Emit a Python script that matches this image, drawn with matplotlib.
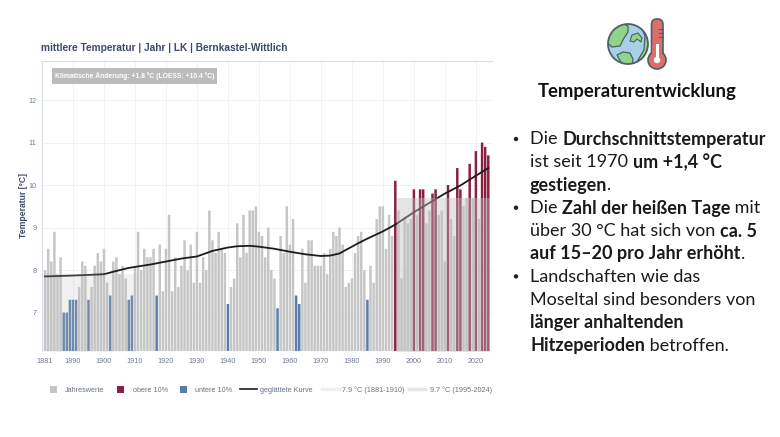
import matplotlib
matplotlib.use("Agg")
import matplotlib.pyplot as plt
from matplotlib.patches import Circle, FancyBboxPatch, PathPatch, Rectangle
from matplotlib.path import Path

years = list(range(1881, 2025))
temps = [
    8.0, 8.5, 8.2, 8.9, 7.9, 8.3, 7.0, 7.0, 7.3, 7.3,  # 1881-1890
    7.3, 7.6, 8.2, 8.1, 7.3, 7.6, 8.1, 8.4, 8.2, 8.5,  # 1891-1900
    7.7, 7.4, 8.2, 8.3, 7.9, 8.1, 7.8, 7.3, 7.4, 8.1,  # 1901-1910
    8.9, 8.0, 8.5, 8.3, 8.3, 8.5, 7.4, 8.6, 7.5, 8.5,  # 1911-1920
    9.3, 7.5, 8.3, 7.6, 8.1, 8.7, 8.0, 8.6, 7.7, 8.9,  # 1921-1930
    7.7, 8.3, 8.0, 9.4, 8.7, 8.4, 8.9, 8.5, 8.4, 7.2,  # 1931-1940
    7.6, 7.8, 9.1, 8.3, 9.3, 8.4, 9.4, 9.4, 9.5, 8.9,  # 1941-1950
    8.8, 8.3, 9.0, 8.0, 7.8, 7.1, 8.8, 8.4, 9.5, 8.6,  # 1951-1960
    9.2, 7.4, 7.2, 8.5, 7.7, 8.7, 8.7, 8.1, 8.1, 8.1,  # 1961-1970
    8.4, 7.9, 8.5, 8.9, 8.8, 9.0, 8.6, 7.6, 7.7, 7.8,  # 1971-1980
    8.4, 8.8, 8.9, 8.0, 7.3, 8.1, 7.7, 9.2, 9.5, 9.5,  # 1981-1990
    8.5, 9.3, 8.8, 10.1, 9.4, 7.8, 9.25, 9.1, 9.2, 9.9,  # 1991-2000
    9.3, 9.9, 9.9, 9.1, 9.4, 9.8, 9.9, 9.3, 9.4, 8.2,  # 2001-2010
    10.0, 9.2, 8.8, 10.4, 9.9, 9.5, 9.7, 10.5, 9.7, 10.8,  # 2011-2020
    9.2, 11.0, 10.9, 10.7,  # 2021-2024
]
upper_years = [1994, 2000, 2002, 2003, 2006, 2007, 2011, 2014, 2015, 2018, 2020, 2022, 2023, 2024]
lower_years = [1887, 1888, 1889, 1890, 1891, 1895, 1902, 1908, 1909, 1917, 1940, 1956, 1962, 1963, 1985]

smooth_years = [1881, 1890, 1900, 1903, 1908, 1915, 1920, 1925, 1930, 1935, 1940, 1943, 1947, 1950, 1955,
                1960, 1965, 1970, 1973, 1976, 1978, 1982, 1985, 1990, 1994, 2000, 2005, 2010, 2015, 2020, 2024]
smooth_vals = [7.85, 7.87, 7.9, 7.96, 8.05, 8.13, 8.2, 8.27, 8.32, 8.45, 8.53, 8.56, 8.57, 8.55, 8.5,
               8.43, 8.37, 8.33, 8.34, 8.39, 8.47, 8.63, 8.74, 8.91, 9.07, 9.36, 9.58, 9.8, 9.99, 10.22, 10.4]

ref_early = 7.9
ref_late = 9.7
x_ticks = [1881] + list(range(1890, 2030, 10))
y_ticks = [7, 8, 9, 10, 11, 12]

bullet_lines = [
    (True, [("Die ", False), ("Durchschnittstemperatur", True)]),
    (False, [("ist seit 1970 ", False), ("um +1,4 °C", True)]),
    (False, [("gestiegen", True), (".", False)]),
    (True, [("Die ", False), ("Zahl der heißen Tage", True), (" mit", False)]),
    (False, [("über 30 °C hat sich von ", False), ("ca. 5", True)]),
    (False, [("auf 15–20 pro Jahr erhöht", True), (".", False)]),
    (True, [("Landschaften wie das", False)]),
    (False, [("Moseltal sind besonders von", False)]),
    (False, [("länger anhaltenden", True)]),
    (False, [("Hitzeperioden", True), (" betroffen.", False)]),
]
legend_items = ["Jahreswerte", "obere 10%", "untere 10%", "geglättete Kurve",
                "7.9 °C (1881-1910)", "9.7 °C (1995-2024)"]

GREY = "#c6c6c6"
RED = "#8b1f3f"
BLUE = "#5b7ca8"
NAVY = "#3b4a68"
TICK = "#6f7b90"
BAND = "#c0c0c0"

W, H = 780, 437
fig = plt.figure(figsize=(W / 100, H / 100), dpi=100, facecolor="white")
plt.rcParams["font.family"] = ["Liberation Sans", "DejaVu Sans"]

ax = fig.add_axes([42 / W, 1 - 351 / H, 450 / W, 290 / H])
ax.set_xlim(1880.0, 2025.2)
ax.set_ylim(6.094, 12.92)

colors = [RED if y in upper_years else BLUE if y in lower_years else GREY for y in years]
ax.bar(years, temps, width=0.8, color=colors, zorder=2, snap=False)
ax.plot(smooth_years, smooth_vals, color="#1c1c1c", lw=1.3, zorder=3)

# reference periods lie on top of the bars, so the bars and curve fade under them
ax.fill_between([1881, 1910.5], 0, ref_early, color=BAND, alpha=0.22, lw=0, zorder=4)
ax.fill_between([1994.5, 2024.5], 0, ref_late, color=BAND, alpha=0.42, lw=0, zorder=4)

ax.set_xticks(x_ticks)
ax.set_yticks(y_ticks)
ax.grid(True, color="#f1f2f4", lw=0.7, zorder=0)
ax.get_xgridlines()[0].set_visible(False)
ax.set_axisbelow(True)
ax.tick_params(length=0, labelsize=5.2, labelcolor=TICK)
ax.tick_params(axis="x", pad=5)
ax.tick_params(axis="y", pad=4)
for name in ("right", "bottom"):
    ax.spines[name].set_visible(False)
for name in ("left", "top"):
    ax.spines[name].set_color("#d6dce6")
    ax.spines[name].set_linewidth(0.8)
ax.set_ylabel("Temperatur [°C]", fontsize=6.2, fontweight="bold", color=NAVY)
ax.yaxis.set_label_coords(-0.03, 0.5)

# overlay in pixel coordinates for everything around the plot
ov = fig.add_axes([0, 0, 1, 1], zorder=5)
ov.set_xlim(0, W)
ov.set_ylim(H, 0)
ov.axis("off")
ov.patch.set_alpha(0)

ov.text(41, 48, "mittlere Temperatur | Jahr | LK | Bernkastel-Wittlich", fontsize=7.3,
        fontweight="bold", color=NAVY, va="center")
ov.add_patch(Rectangle((52, 68), 165, 15.5, color="#bcbcbc", lw=0))
ov.text(55, 75.8, "Klimatische Änderung: +1.8 °C (LOESS: +10.4 °C)", fontsize=4.85,
        fontweight="bold", color="white", va="center")

# legend row
leg_y = 389
ov.add_patch(Rectangle((50, leg_y - 3.5), 7, 7, color=GREY, lw=0))
ov.add_patch(Rectangle((117, leg_y - 3.5), 7, 7, color=RED, lw=0))
ov.add_patch(Rectangle((180, leg_y - 3.5), 7, 7, color=BLUE, lw=0))
ov.plot([240, 257], [leg_y, leg_y], color="#1c1c1c", lw=1.2)
ov.plot([322, 340], [leg_y, leg_y], color="#f0f0f0", lw=2.5)
ov.plot([409, 425], [leg_y, leg_y], color="#e6e6e6", lw=2.5)
for x, label in zip([65, 133, 195, 260, 342, 430], legend_items):
    ov.text(x, leg_y, label, fontsize=5.2, color="#66728a", va="center_baseline")

# globe and thermometer icon
outline = "#4d5f66"
globe = Circle((628, 44), 20, fc="#a7d0e8", ec="none", zorder=6)
ov.add_patch(globe)
land = [
    [(606, 42), (612, 47), (620, 46), (624, 38), (628, 32), (628, 26), (620, 22), (608, 26)],
    [(617, 55), (623, 52), (630, 53), (633, 59), (632, 66), (622, 64)],
    [(640, 24), (645, 36), (644, 50), (638, 60), (635, 68), (652, 60), (652, 30)],
]
for pts in land:
    codes = [Path.MOVETO] + [Path.LINETO] * (len(pts) - 1) + [Path.CLOSEPOLY]
    patch = PathPatch(Path(pts + [pts[0]], codes), fc="#8fd488", ec=outline, lw=0.9,
                      joinstyle="round", zorder=7)
    ov.add_patch(patch)
    patch.set_clip_path(globe)
island = [(630, 41), (632, 35), (638, 33), (642, 38), (641, 42), (637, 39), (634, 42)]
codes = [Path.MOVETO] + [Path.LINETO] * (len(island) - 1) + [Path.CLOSEPOLY]
ov.add_patch(PathPatch(Path(island + [island[0]], codes), fc="#8fd488", ec=outline, lw=0.8,
                       joinstyle="round", zorder=7))
ov.add_patch(Circle((628, 44), 20, fc="none", ec=outline, lw=1.3, zorder=7))

thermo_red = "#d9706c"
ov.add_patch(FancyBboxPatch((651.5, 19), 11.5, 38, boxstyle="round,pad=0,rounding_size=5.5",
                            fc=thermo_red, ec=outline, lw=1.2, zorder=8))
ov.add_patch(Circle((657, 60), 9, fc=thermo_red, ec=outline, lw=1.2, zorder=8))
ov.add_patch(Rectangle((652.2, 45), 10, 12, fc=thermo_red, lw=0, zorder=9))
ov.add_patch(Rectangle((655.5, 44), 3, 14, fc="white", lw=0, zorder=10))
ov.add_patch(Circle((657, 60), 3.2, fc="white", lw=0, zorder=10))
for tick_y in (29, 33, 37):
    ov.plot([659, 663], [tick_y, tick_y], color=outline, lw=0.8, zorder=10)

# text column
body_font = ["Lato", "DejaVu Sans"]
ov.text(637, 91, "Temperaturentwicklung", fontsize=13.3, fontweight="bold", color="#111111",
        ha="center", va="center", family=body_font)

renderer = fig.canvas.get_renderer()
line_y = 138
for has_bullet, runs in bullet_lines:
    if has_bullet:
        ov.add_patch(Circle((516, line_y + 1), 2.2, fc="#222222", lw=0))
    x = 530
    for text, bold in runs:
        t = ov.text(x, line_y, text, fontsize=13.0, family=body_font, va="center_baseline",
                    fontweight="bold" if bold else "normal", color="#1a1a1a")
        x += t.get_window_extent(renderer).width
    line_y += 22.9

fig.savefig("out.png", dpi=100)
